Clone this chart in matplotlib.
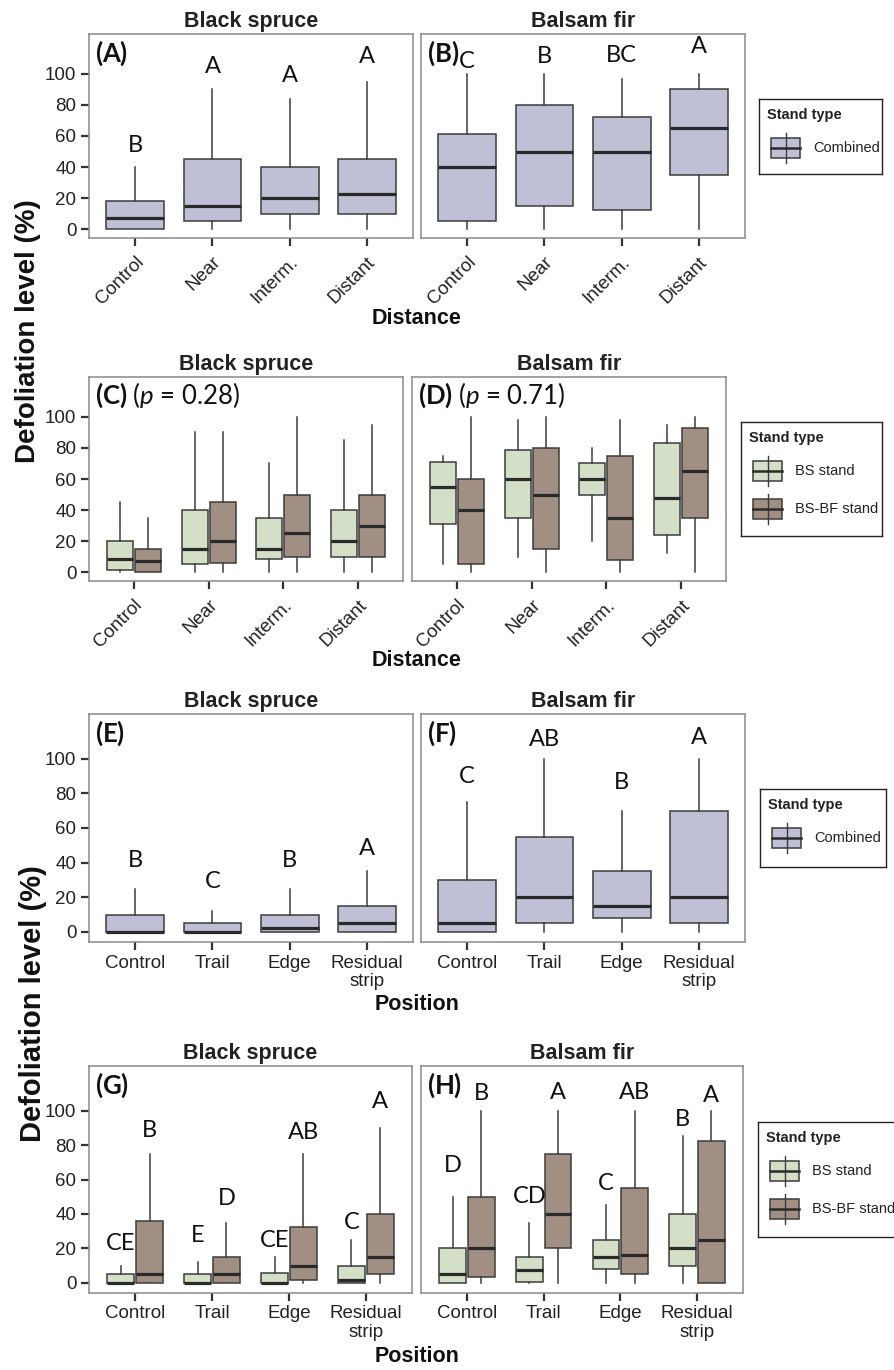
import matplotlib
matplotlib.use("Agg")
import matplotlib.pyplot as plt
from matplotlib.patches import Rectangle

plt.rcParams['font.family'] = ['Liberation Sans', 'DejaVu Sans']
plt.rcParams['mathtext.fontset'] = 'custom'
plt.rcParams['mathtext.rm'] = 'Lato'
plt.rcParams['mathtext.it'] = 'Lato:italic'
plt.rcParams['mathtext.bf'] = 'Lato:bold'

# categories
distance = ["Control", "Near", "Interm.", "Distant"]
position = ["Control", "Trail", "Edge", "Residual\nstrip"]

# box stats per category: (whisker low, Q1, median, Q3, whisker high)
a_combined = [(0, 0, 7, 18, 40), (0, 5, 15, 45, 90), (0, 10, 20, 40, 84), (0, 10, 22.5, 45, 95)]
b_combined = [(0, 5, 40, 61, 100), (0, 15, 50, 80, 100), (0, 12.5, 50, 72, 97), (0, 35, 65, 90, 100)]
c_bs = [(0, 1, 8.5, 20, 45), (0, 5, 15, 40, 90), (0, 8.5, 15, 35, 70), (0, 10, 20, 40, 85)]
c_bsbf = [(0, 0, 7, 15, 35), (0, 6, 20, 45, 90), (0, 10, 25, 50, 100), (0, 10, 30, 50, 95)]
d_bs = [(5, 31, 55, 71, 75), (10, 35, 60, 79, 98), (20, 50, 60, 70, 80), (12.5, 24, 48, 83, 95)]
d_bsbf = [(0, 5, 40, 60, 100), (0, 15, 50, 80, 100), (0, 7.5, 35, 75, 98), (0, 35, 65, 93, 100)]
e_combined = [(0, 0, 0, 10, 25), (0, 0, 0, 5, 12), (0, 0, 2, 10, 25), (0, 0, 5, 15, 35)]
f_combined = [(0, 0, 5, 30, 75), (0, 5, 20, 55, 100), (0, 8, 15, 35, 70), (0, 5, 20, 70, 100)]
g_bs = [(0, 0, 0, 5, 10), (0, 0, 0, 5, 12), (0, 0, 0, 6, 15), (0, 0, 2, 10, 25)]
g_bsbf = [(0, 0, 5, 36, 75), (0, 0, 5, 15, 35), (0, 2, 10, 32.5, 75), (0, 5, 15, 40, 90)]
h_bs = [(0, 0, 5, 20, 50), (0, 0.5, 7.5, 15, 35), (0, 8, 15, 25, 45), (0, 10, 20, 40, 85)]
h_bsbf = [(0, 3.5, 20, 50, 100), (0, 20, 40, 75, 100), (0, 5.5, 16.5, 55, 100), (0, 0, 25, 82.5, 100)]

# significance letters and their heights
a_letters, a_letter_y = ["B", "A", "A", "A"], [54, 105, 99, 111]
b_letters, b_letter_y = ["C", "B", "BC", "A"], [108, 111, 112, 118]
e_letters, e_letter_y = ["B", "C", "B", "A"], [41, 29, 41, 48]
f_letters, f_letter_y = ["C", "AB", "B", "A"], [90, 111, 86.5, 112]
g_bs_letters, g_bs_letter_y = ["CE", "E", "CE", "C"], [23, 27.5, 24.5, 35]
g_bsbf_letters, g_bsbf_letter_y = ["B", "D", "AB", "A"], [88.5, 49, 87, 105]
h_bs_letters, h_bs_letter_y = ["D", "CD", "C", "B"], [68, 50, 57.5, 95]
h_bsbf_letters, h_bsbf_letter_y = ["B", "A", "AB", "A"], [110, 110.5, 110.5, 108.5]

col_comb = "#BFBFD6"
col_bs = "#D4DFC8"
col_bsbf = "#A08F82"
edge = "#3C3C3C"

W, H = 894, 1370
fig = plt.figure(figsize=(W / 100, H / 100), dpi=100)


def px_axes(l, t, r, b):
    return fig.add_axes([l / W, 1 - b / H, (r - l) / W, (b - t) / H])


def draw_boxes(ax, stats, pos, width, color):
    st = [dict(whislo=s[0], q1=s[1], med=s[2], q3=s[3], whishi=s[4], fliers=[]) for s in stats]
    ax.bxp(st, positions=pos, widths=width, patch_artist=True, showfliers=False,
           showcaps=False, manage_ticks=False,
           boxprops=dict(facecolor=color, edgecolor=edge, linewidth=1.1),
           medianprops=dict(color="#2a2a2a", linewidth=2.3),
           whiskerprops=dict(color=edge, linewidth=1.1))


def letters(ax, xs, labs, ys):
    for x, s, y in zip(xs, labs, ys):
        ax.text(x, y, s, ha='center', va='center', fontsize=17, fontfamily='Lato', color='#111111')


def panel(rect, title, label, cats, rotated, show_y):
    ax = px_axes(*rect)
    ax.set_xlim(0.4, 4.6)
    ax.set_ylim(-5.8, 125.8)
    ax.set_xticks(range(1, 5))
    if rotated:
        ax.set_xticklabels(cats, rotation=45, ha='right', va='top', rotation_mode='anchor')
    else:
        ax.set_xticklabels(cats, linespacing=1.1)
    ax.set_yticks([0, 20, 40, 60, 80, 100])
    ax.tick_params(axis='both', length=6, width=1.6, color='#333333', labelsize=13.5,
                   labelcolor='#222222', pad=3)
    ax.tick_params(axis='x', pad=5 if rotated else 3)
    if not show_y:
        ax.tick_params(axis='y', left=False, labelleft=False)
    for s in ax.spines.values():
        s.set_color('#8a8a8a')
        s.set_linewidth(1.1)
    ax.set_title(title, fontweight='bold', fontsize=15.5, pad=5, color='#222222')
    ax.annotate(label, xy=(0, 1), xycoords='axes fraction', xytext=(4, -13.5),
                textcoords='offset points', ha='left', va='center', fontsize=18.5,
                fontfamily='Lato', color='#111111')
    return ax


def legend(rect, entries):
    l, t, r, b = rect
    lax = px_axes(l, t, r, b)
    lax.set_xlim(0, r - l)
    lax.set_ylim(b - t, 0)
    lax.set_xticks([])
    lax.set_yticks([])
    for s in lax.spines.values():
        s.set_color('#222222')
        s.set_linewidth(1.0)
    lax.text(8, 16, "Stand type", fontweight='bold', fontsize=10.5, va='center', color='#222222')
    for i, (lab, col) in enumerate(entries):
        cy = 49 + 38 * i
        lax.plot([26.5, 26.5], [cy - 15, cy + 15], color=edge, lw=1.0)
        lax.add_patch(Rectangle((12, cy - 10), 29, 20, facecolor=col, edgecolor=edge, lw=1.1))
        lax.plot([12, 41], [cy, cy], color="#2a2a2a", lw=1.8)
        lax.text(54, cy, lab, fontsize=10.5, va='center', color='#222222')


xs = [1, 2, 3, 4]
off = 0.187
bw = 0.35
xl = [x - off for x in xs]
xr = [x + off for x in xs]

# row 1
ax = panel((89, 34, 413, 238), "Black spruce", r"$\mathbf{(A)}$", distance, True, True)
draw_boxes(ax, a_combined, xs, 0.75, col_comb)
letters(ax, xs, a_letters, a_letter_y)
ax = panel((421, 34, 745, 238), "Balsam fir", r"$\mathbf{(B)}$", distance, True, False)
draw_boxes(ax, b_combined, xs, 0.75, col_comb)
letters(ax, xs, b_letters, b_letter_y)
legend((759, 99, 882, 174), [("Combined", col_comb)])

# row 2
ax = panel((89, 377, 403, 581), "Black spruce", r"$\mathbf{(C)}$ ($\mathit{p}$ = 0.28)", distance, True, True)
draw_boxes(ax, c_bs, xl, bw, col_bs)
draw_boxes(ax, c_bsbf, xr, bw, col_bsbf)
ax = panel((412, 377, 726, 581), "Balsam fir", r"$\mathbf{(D)}$ ($\mathit{p}$ = 0.71)", distance, True, False)
draw_boxes(ax, d_bs, xl, bw, col_bs)
draw_boxes(ax, d_bsbf, xr, bw, col_bsbf)
legend((741, 422, 882, 536), [("BS stand", col_bs), ("BS-BF stand", col_bsbf)])

# row 3
ax = panel((89, 714, 413, 942), "Black spruce", r"$\mathbf{(E)}$", position, False, True)
draw_boxes(ax, e_combined, xs, 0.75, col_comb)
letters(ax, xs, e_letters, e_letter_y)
ax = panel((421, 714, 745, 942), "Balsam fir", r"$\mathbf{(F)}$", position, False, False)
draw_boxes(ax, f_combined, xs, 0.75, col_comb)
letters(ax, xs, f_letters, f_letter_y)
legend((760, 789, 886, 867), [("Combined", col_comb)])

# row 4
ax = panel((89, 1066, 412, 1293), "Black spruce", r"$\mathbf{(G)}$", position, False, True)
draw_boxes(ax, g_bs, xl, bw, col_bs)
draw_boxes(ax, g_bsbf, xr, bw, col_bsbf)
letters(ax, xl, g_bs_letters, g_bs_letter_y)
letters(ax, xr, g_bsbf_letters, g_bsbf_letter_y)
ax = panel((421, 1066, 743, 1293), "Balsam fir", r"$\mathbf{(H)}$", position, False, False)
draw_boxes(ax, h_bs, xl, bw, col_bs)
draw_boxes(ax, h_bsbf, xr, bw, col_bsbf)
letters(ax, xl, h_bs_letters, h_bs_letter_y)
letters(ax, xr, h_bsbf_letters, h_bsbf_letter_y)
legend((758, 1122, 900, 1237), [("BS stand", col_bs), ("BS-BF stand", col_bsbf)])

# shared axis titles
fig.text(28 / W, 1 - 331 / H, "Defoliation level (%)", rotation=90, fontsize=20,
         fontweight='bold', ha='center', va='center', color='#111111')
fig.text(33 / W, 1 - 1004 / H, "Defoliation level (%)", rotation=90, fontsize=21,
         fontweight='bold', ha='center', va='center', color='#111111')
for y, s in [(318, "Distance"), (660, "Distance"), (1005, "Position"), (1357, "Position")]:
    fig.text(417 / W, 1 - y / H, s, fontsize=15.5, fontweight='bold', ha='center',
             va='center', color='#111111')

fig.savefig("out.png", dpi=100, facecolor='white')
